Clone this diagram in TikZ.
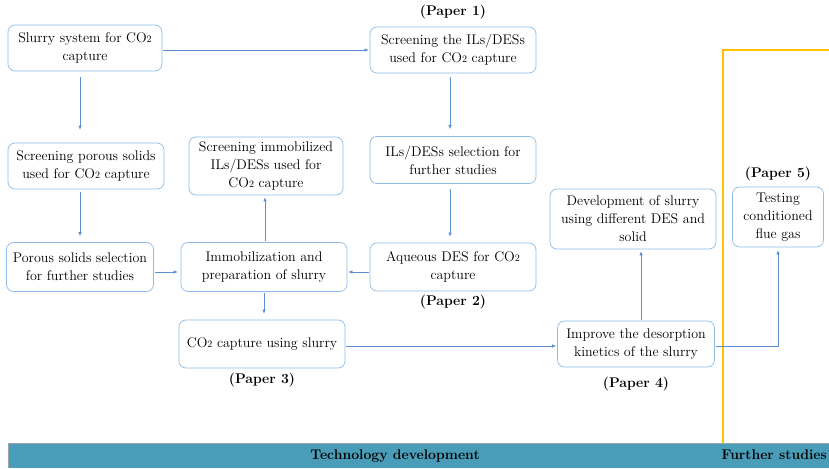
\documentclass[tikz,border=0pt]{standalone}
\usetikzlibrary{arrows.meta}
\definecolor{boxblue}{HTML}{8FBCE6}
\definecolor{arrblue}{HTML}{5B8FD5}
\definecolor{barblue}{HTML}{4A9DB8}
\definecolor{baredge}{HTML}{9AA4AA}
\definecolor{sepyellow}{HTML}{FFC000}
\tikzset{
  box/.style={draw=boxblue, line width=0.7pt, rounded corners=7pt, align=center, inner sep=0pt,
    font=\fontsize{14}{18}\selectfont},
  arr/.style={draw=arrblue, line width=0.6pt, -{Latex[length=4pt,width=3.5pt]}},
  paper/.style={font=\fontsize{14}{17}\selectfont\bfseries, inner sep=0pt},
  bartext/.style={font=\fontsize{14}{17}\selectfont\bfseries, inner sep=0pt}
}
\newcommand{\cotwo}{CO{\fontsize{10}{12}\selectfont 2}}
\begin{document}
\begin{tikzpicture}[x=1pt,y=-1pt]
\useasboundingbox (0,0) rectangle (829,468);
% separator
\draw[sepyellow, line width=1.8pt] (723,443) -- (723,50) -- (829,50);
% bottom bar
\fill[barblue] (8,443) rectangle (829,468);
\draw[baredge, line width=0.8pt] (8,468) -- (8,443) -- (829,443);
\node[bartext] (tdev) at (395,456) {Technology development};
\node[bartext, anchor=east] (fstud) at (827,455) {Further studies};
% boxes
\node[box, minimum width=154pt, minimum height=46pt] (n1) at (85,48) {Slurry system for \cotwo\\capture};
\node[box, minimum width=166pt, minimum height=46pt] (n2) at (453,50) {Screening the ILs/DESs\\used for \cotwo{} capture};
\node[box, minimum width=156pt, minimum height=46pt] (n3) at (86,166) {Screening porous solids\\used for \cotwo{} capture};
\node[box, minimum width=154pt, minimum height=58pt] (n4) at (266,166) {Screening immobilized\\ILs/DESs used for\\\cotwo{} capture};
\node[box, minimum width=166pt, minimum height=47pt] (n5) at (453,160) {ILs/DESs selection for\\further studies};
\node[box, minimum width=147pt, minimum height=49pt] (n6) at (80,267) {Porous solids selection\\for further studies};
\node[box, minimum width=166pt, minimum height=49pt] (n7) at (264,267) {Immobilization and\\preparation of slurry};
\node[box, minimum width=166pt, minimum height=48pt] (n8) at (453,267) {Aqueous DES for \cotwo\\capture};
\node[box, minimum width=166pt, minimum height=48pt] (n9) at (262,344) {\cotwo{} capture using slurry};
\node[box, minimum width=166pt, minimum height=60pt] (n10) at (633,219) {Development of slurry\\using different DES and\\solid};
\node[box, minimum width=157pt, minimum height=46pt] (n11) at (636,344) {Improve the desorption\\kinetics of the slurry};
\node[box, minimum width=91pt, minimum height=60pt] (n12) at (778,217) {Testing\\conditioned\\flue gas};
% paper labels
\node[paper] (p1) at (453,12) {(Paper 1)};
\node[paper] (p2) at (453,302) {(Paper 2)};
\node[paper] (p3) at (262,380) {(Paper 3)};
\node[paper] (p4) at (636,384) {(Paper 4)};
\node[paper] (p5) at (778,174) {(Paper 5)};
% connectors
\draw[arr, shorten <=1pt, shorten >=1pt] ([yshift=-2pt]n1.east) -- ([yshift=0pt]n2.west);
\draw[arr, shorten <=6pt, shorten >=13pt] ([xshift=-5pt]n1.south) -- ([xshift=-6pt]n3.north);
\draw[arr, shorten <=4pt, shorten >=7pt] ([xshift=-3pt]n2.south) -- ([xshift=-3pt]n5.north);
\draw[arr, shorten <=3pt, shorten >=6pt] ([xshift=-6pt]n3.south) -- ([xshift=0pt]n6.north);
\draw[arr, shorten <=5pt, shorten >=6pt] ([xshift=-3pt]n5.south) -- ([xshift=-3pt]n8.north);
\draw[arr, shorten <=1pt, shorten >=3pt] ([yshift=-5pt]n6.east) -- ([yshift=-5pt]n7.west);
\draw[arr, shorten <=1pt, shorten >=1pt] ([yshift=-5pt]n8.west) -- ([yshift=-5pt]n7.east);
\draw[arr, shorten <=1pt, shorten >=2pt] ([xshift=1pt]n7.north) -- ([xshift=-1pt]n4.south);
\draw[arr, shorten <=1pt, shorten >=6pt] (n7.south) -- ([xshift=2pt]n9.north);
\draw[arr, shorten <=1pt, shorten >=1pt] ([yshift=-2pt]n9.east) -- ([yshift=-2pt]n11.west);
\draw[arr, shorten <=1pt, shorten >=2pt] ([xshift=5pt]n11.north) -- ([xshift=8pt]n10.south);
\draw[arr, shorten <=1pt, shorten >=3pt] ([yshift=-2pt]n11.east) -| (n12.south);
\end{tikzpicture}
\end{document}
